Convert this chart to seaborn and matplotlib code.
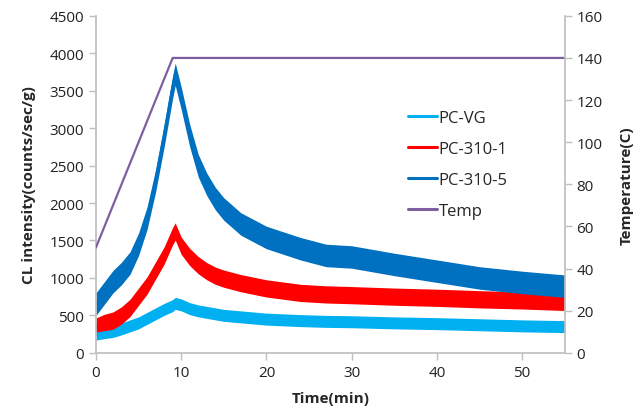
import pandas as pd
import seaborn as sns
import matplotlib
matplotlib.use("Agg")
import matplotlib.pyplot as plt

# values (centre of each noisy trace + half band width)
time = [0, 1, 2, 3, 4, 5, 6, 7, 8, 9, 9.3, 10, 11, 12, 13, 14, 15, 17, 20,
        24, 27, 30, 35, 40, 45, 50, 55]
pc_vg = [250, 270, 285, 320, 360, 400, 460, 520, 580, 630, 660, 640, 590, 560,
         540, 520, 500, 480, 450, 430, 420, 415, 400, 390, 375, 360, 350]
pc_310_1 = [350, 400, 430, 500, 600, 750, 900, 1100, 1300, 1560, 1620, 1430,
            1280, 1170, 1090, 1030, 990, 930, 860, 800, 780, 770, 750, 735,
            715, 700, 680]
pc_310_5 = [650, 800, 950, 1060, 1200, 1450, 1800, 2300, 2900, 3550, 3720,
            3400, 2900, 2500, 2250, 2060, 1920, 1720, 1540, 1390, 1300, 1280,
            1180, 1090, 1000, 940, 890]
hw_vg = 80
hw_1 = 115
hw_5 = 150

temp_time = [0, 9, 55]
temp = [50, 140, 140]

colors = {"PC-VG": "#00B0F0", "PC-310-1": "#FF0000", "PC-310-5": "#0070C0"}
temp_color = "#7D5F9F"
grey = "#BFBFBF"

df = pd.DataFrame({"Time": time, "PC-VG": pc_vg, "PC-310-1": pc_310_1,
                   "PC-310-5": pc_310_5})
long_df = df.melt(id_vars="Time", var_name="Sample", value_name="CL")

sns.set_theme(style="white")
plt.rcParams['font.family'] = ['Open Sans', 'DejaVu Sans']

fig = plt.figure(figsize=(6.44, 4.10), dpi=100)
ax = fig.add_axes([0.149, 0.137, 0.728, 0.822])

# noisy traces drawn as solid bands around the read centre values
for name, hw in [("PC-VG", hw_vg), ("PC-310-1", hw_1), ("PC-310-5", hw_5)]:
    ax.fill_between(df["Time"], df[name] - hw, df[name] + hw,
                    color=colors[name], linewidth=0)

sns.lineplot(data=long_df, x="Time", y="CL", hue="Sample",
             palette=colors, linewidth=2, ax=ax, legend=False)

ax.set_xlim(0, 55)
ax.set_ylim(0, 4500)
ax.set_xticks([0, 10, 20, 30, 40, 50])
ax.set_yticks(range(0, 4501, 500))
ax.set_xlabel("Time(min)", fontsize=11, fontweight="bold", labelpad=8)
ax.set_ylabel("CL intensity(counts/sec/g)", fontsize=11, fontweight="bold",
              labelpad=10)

ax2 = ax.twinx()
sns.lineplot(x=temp_time, y=temp, color=temp_color, linewidth=1.6, ax=ax2)
ax2.set_ylim(0, 160)
ax2.set_yticks(range(0, 161, 20))
ax2.set_ylabel("Temperature(C)", fontsize=11, fontweight="bold", labelpad=12)

for a in (ax, ax2):
    for s in a.spines.values():
        s.set_color(grey)
    a.spines["top"].set_visible(False)
    a.tick_params(colors=grey, labelcolor="#222222", labelsize=11,
                  length=5, width=1, direction="out")
ax.spines["right"].set_visible(False)
ax2.spines["left"].set_visible(False)
ax2.spines["bottom"].set_visible(False)
ax.tick_params(axis="both", which="both", bottom=True, left=True)
ax2.tick_params(axis="y", right=True)

handles = [plt.Line2D([], [], color=colors[n], linewidth=2.2) for n in colors]
handles.append(plt.Line2D([], [], color=temp_color, linewidth=2.2))
labels = list(colors) + ["Temp"]
ax2.legend(handles, labels, frameon=False, fontsize=12,
           loc="upper left", bbox_to_anchor=(0.633, 0.765),
           handlelength=1.75, handletextpad=0.1, labelspacing=0.9)

fig.savefig("out.png", dpi=100)
